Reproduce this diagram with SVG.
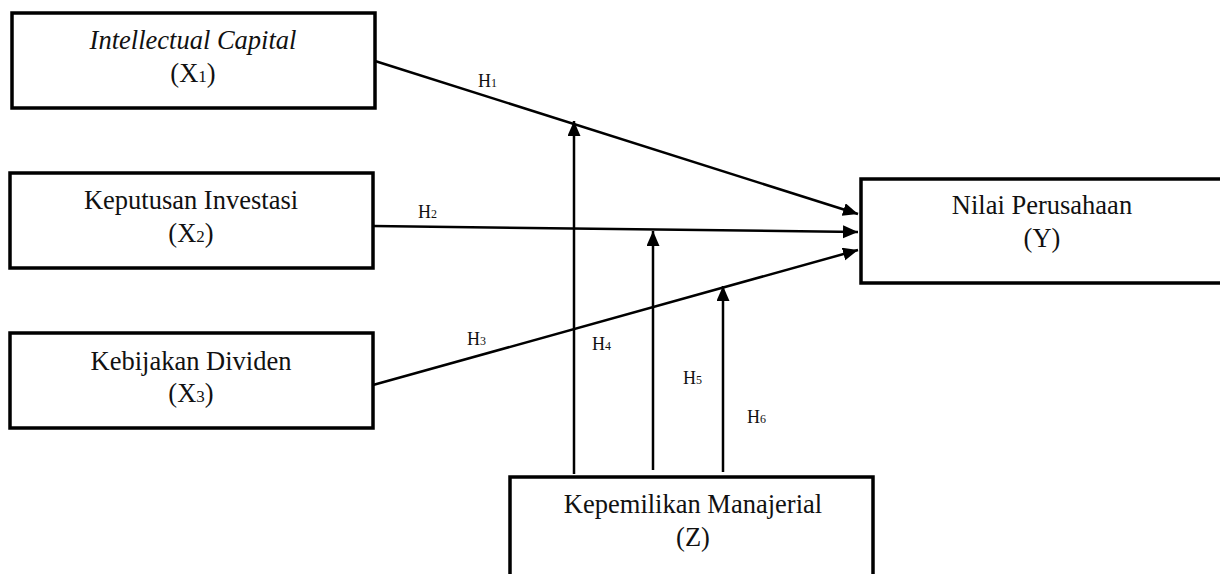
<svg xmlns="http://www.w3.org/2000/svg" width="1220" height="574" viewBox="0 0 1220 574">
<style>
.box{fill:#fff;stroke:#000;stroke-width:3.5}
.t{font-family:"Liberation Serif","Times New Roman",serif;font-size:26.5px;fill:#111;text-anchor:middle}
.h{font-family:"Liberation Serif","Times New Roman",serif;font-size:18px;fill:#111}
.s{font-size:12px}
.c{stroke:#000;stroke-width:2.5;fill:none;marker-end:url(#ah)}
</style>
<defs>
<marker id="ah" markerWidth="16" markerHeight="14" refX="15" refY="6.5" orient="auto" markerUnits="userSpaceOnUse">
<path d="M0,0 L15,6.5 L0,13 Z" fill="#000"/>
</marker>
</defs>
<rect width="1220" height="574" fill="#fff"/>
<g id="connectors">
<line class="c" x1="375" y1="61" x2="858" y2="214"/>
<line class="c" x1="373" y1="226" x2="858" y2="232"/>
<line class="c" x1="373" y1="385" x2="858" y2="250"/>
<line class="c" x1="574" y1="474" x2="574" y2="121"/>
<line class="c" x1="653" y1="470" x2="653" y2="231"/>
<line class="c" x1="723" y1="472" x2="723" y2="286"/>
<text class="h" x="478" y="87">H<tspan class="s">1</tspan></text>
<text class="h" x="418" y="218">H<tspan class="s">2</tspan></text>
<text class="h" x="467" y="345">H<tspan class="s">3</tspan></text>
<text class="h" x="592" y="350">H<tspan class="s">4</tspan></text>
<text class="h" x="683" y="384">H<tspan class="s">5</tspan></text>
<text class="h" x="747" y="423">H<tspan class="s">6</tspan></text>
</g>
<g id="x1">
<rect class="box" x="12" y="13" width="363" height="95"/>
<text class="t" x="193" y="49" font-style="italic">Intellectual Capital</text>
<text class="t" x="193" y="82">(X<tspan font-size="17">1</tspan>)</text>
</g>
<g id="x2">
<rect class="box" x="10" y="173" width="363" height="95"/>
<text class="t" x="191" y="209">Keputusan Investasi</text>
<text class="t" x="191" y="242">(X<tspan font-size="17">2</tspan>)</text>
</g>
<g id="x3">
<rect class="box" x="10" y="333" width="363" height="95"/>
<text class="t" x="191" y="370">Kebijakan Dividen</text>
<text class="t" x="191" y="402">(X<tspan font-size="17">3</tspan>)</text>
</g>
<g id="y">
<rect class="box" x="861" y="179" width="370" height="104"/>
<text class="t" x="1042" y="214">Nilai Perusahaan</text>
<text class="t" x="1042" y="247">(Y)</text>
</g>
<g id="z">
<rect class="box" x="510" y="477" width="363" height="110"/>
<text class="t" x="693" y="513">Kepemilikan Manajerial</text>
<text class="t" x="693" y="546">(Z)</text>
</g>
</svg>
